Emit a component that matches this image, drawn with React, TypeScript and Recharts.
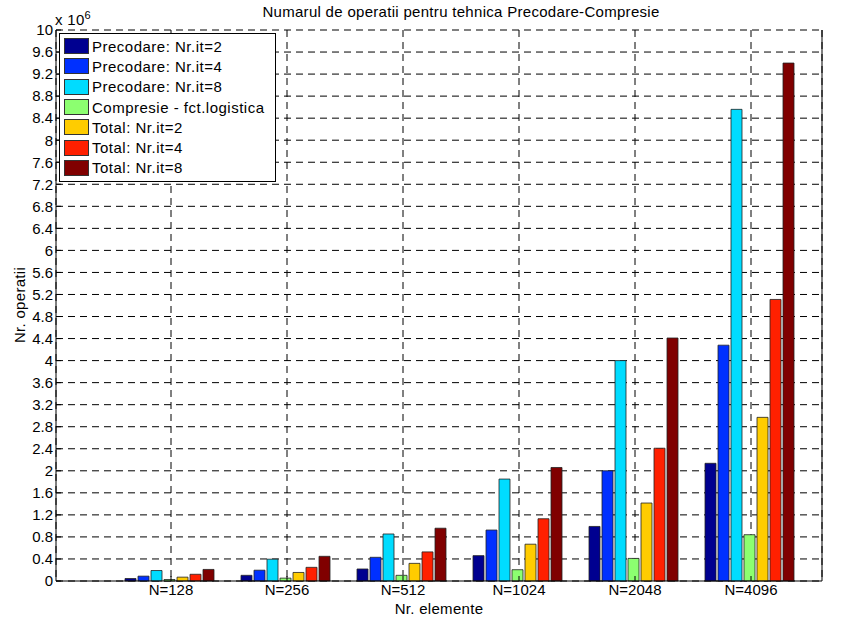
import React from 'react';
import { BarChart, Bar, XAxis, YAxis, CartesianGrid, Legend } from 'recharts';

const FONT = '"Liberation Sans", Arial, Helvetica, sans-serif';

const categories = ['N=128', 'N=256', 'N=512', 'N=1024', 'N=2048', 'N=4096'];

// values in units of 10^6 operations
const precodareIt2 = [0.045, 0.103, 0.218, 0.46, 0.99, 2.136];
const precodareIt4 = [0.088, 0.196, 0.43, 0.925, 2.0, 4.28];
const precodareIt8 = [0.19, 0.396, 0.853, 1.85, 4.0, 8.56];
const compresie = [0.027, 0.052, 0.103, 0.205, 0.41, 0.84];
const totalIt2 = [0.07, 0.155, 0.32, 0.668, 1.415, 2.97];
const totalIt4 = [0.122, 0.248, 0.528, 1.13, 2.41, 5.11];
const totalIt8 = [0.21, 0.448, 0.958, 2.06, 4.41, 9.4];

const seriesNames = [
  'Precodare: Nr.it=2',
  'Precodare: Nr.it=4',
  'Precodare: Nr.it=8',
  'Compresie - fct.logistica',
  'Total: Nr.it=2',
  'Total: Nr.it=4',
  'Total: Nr.it=8',
];
const seriesColors = ['#000090', '#0030FF', '#00DCFF', '#8CFF70', '#FFCC00', '#FF2000', '#800000'];
const seriesValues = [precodareIt2, precodareIt4, precodareIt8, compresie, totalIt2, totalIt4, totalIt8];

const yTicks = [0, 0.4, 0.8, 1.2, 1.6, 2, 2.4, 2.8, 3.2, 3.6, 4, 4.4, 4.8, 5.2, 5.6, 6, 6.4, 6.8, 7.2, 7.6, 8, 8.4, 8.8, 9.2, 9.6, 10];

const data = categories.map((cat, i) => {
  const row: Record<string, string | number> = { cat };
  seriesValues.forEach((vals, s) => {
    row['s' + s] = vals[i];
  });
  return row;
});

const fmtY = (v: number) => String(Number(v.toFixed(1)));

const txt = { fontFamily: FONT, fontSize: 15, color: '#000', letterSpacing: 0.3 };

const LegendBox = () => (
  <div
    style={{
      ...txt,
      border: '1px solid #000',
      background: '#fff',
      padding: '2px 10px 3px 4px',
      lineHeight: 1,
      letterSpacing: 0.5,
    }}
  >
    {seriesNames.map((name, i) => (
      <div key={name} style={{ display: 'flex', alignItems: 'center', height: 20.3 }}>
        <span
          style={{
            display: 'inline-block',
            width: 23,
            height: 14,
            background: seriesColors[i],
            border: '1px solid #333',
            marginRight: 3,
          }}
        />
        {name}
      </div>
    ))}
  </div>
);

export default function App() {
  return (
    <div style={{ position: 'absolute', left: 0, top: 0, width: 866, height: 620, background: '#fff' }}>
      <BarChart
        width={866}
        height={620}
        data={data}
        margin={{ top: 30, right: 0, bottom: 0, left: 0 }}
        barCategoryGap={12}
        barGap={2}
      >
        <CartesianGrid stroke="#000" strokeWidth={1} strokeDasharray="7 5" />
        <XAxis
          dataKey="cat"
          height={39}
          padding={{ left: 57, right: 13 }}
          interval={0}
          tickSize={-5}
          tickMargin={8}
          stroke="#000"
          tick={{ fill: '#000', fontSize: 15, fontFamily: FONT }}
        />
        <XAxis
          xAxisId="top"
          dataKey="cat"
          orientation="top"
          height={0}
          padding={{ left: 57, right: 13 }}
          interval={0}
          tickSize={-5}
          tickFormatter={() => ''}
          stroke="#000"
        />
        <YAxis
          width={56}
          domain={[0, 10]}
          ticks={yTicks}
          interval={0}
          tickSize={-5}
          tickMargin={8}
          tickFormatter={fmtY}
          stroke="#000"
          tick={{ fill: '#000', fontSize: 15, fontFamily: FONT }}
        />
        <YAxis
          yAxisId="right"
          orientation="right"
          width={44}
          domain={[0, 10]}
          ticks={yTicks}
          interval={0}
          tickSize={-5}
          tickFormatter={() => ''}
          stroke="#000"
        />
        <Legend
          layout="vertical"
          align="center"
          verticalAlign="middle"
          content={<LegendBox />}
          wrapperStyle={{ left: 59, top: 33, width: 'auto', height: 'auto' }}
        />
        {seriesNames.map((name, s) => (
          <Bar
            key={name}
            dataKey={'s' + s}
            name={name}
            fill={seriesColors[s]}
            stroke="#222"
            strokeWidth={0.8}
            isAnimationActive={false}
          />
        ))}
      </BarChart>
      <div style={{ ...txt, position: 'absolute', left: 0, top: 3, width: 922, textAlign: 'center' }}>
        Numarul de operatii pentru tehnica Precodare-Compresie
      </div>
      <div style={{ ...txt, position: 'absolute', left: 55, top: 9 }}>
        x 10<sup style={{ fontSize: 11, verticalAlign: 6 }}>6</sup>
      </div>
      <div
        style={{
          ...txt,
          position: 'absolute',
          left: 19,
          top: 305,
          transform: 'translate(-50%, -50%) rotate(-90deg)',
          whiteSpace: 'nowrap',
        }}
      >
        Nr. operatii
      </div>
      <div
        style={{
          ...txt,
          position: 'absolute',
          left: 439,
          top: 608,
          transform: 'translate(-50%, -50%)',
          whiteSpace: 'nowrap',
        }}
      >
        Nr. elemente
      </div>
    </div>
  );
}
